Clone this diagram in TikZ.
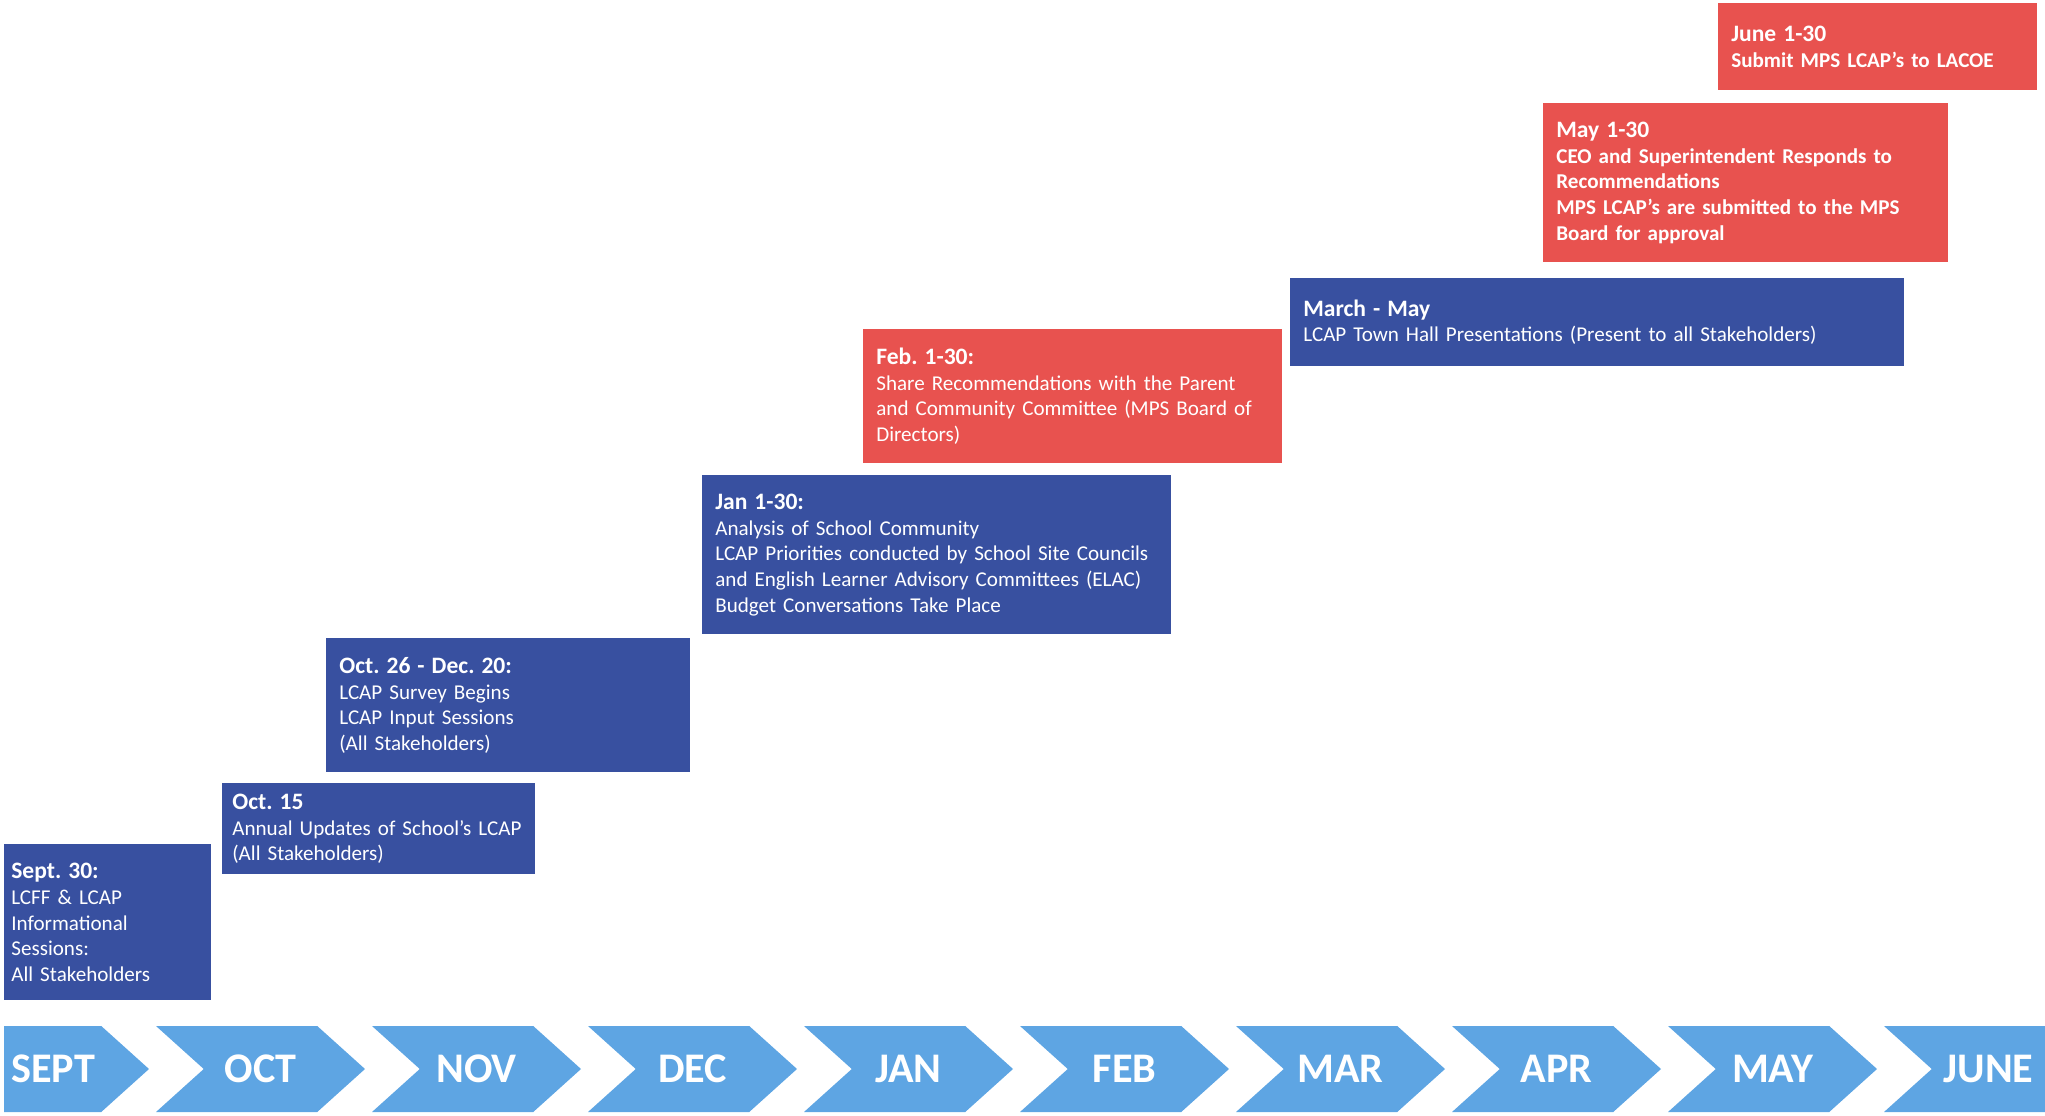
\documentclass[tikz,border=0pt]{standalone}
\usepackage{fontspec}
\setmainfont{Carlito}
\usepackage{xcolor}
\usepackage{tikz}
\usetikzlibrary{shapes.symbols}

\definecolor{boxblue}{HTML}{3850A0}
\definecolor{boxred}{HTML}{E8524F}
\definecolor{monthblue}{HTML}{5EA5E3}

\newcommand{\when}[1]{{\fontsize{13.4}{14.6}\selectfont\bfseries #1}}
\frenchspacing

\begin{document}
\begin{tikzpicture}[
    event/.style={anchor=north west, fill=boxblue, text=white, align=left, inner xsep=0.26cm,
        font=\fontsize{12}{14.6}\selectfont},
    redevent/.style={event, fill=boxred},
    month/.style={signal, signal from=west, signal to=east, signal pointer angle=84,
        fill=monthblue, text=white, inner sep=0pt, minimum width=4.18cm, minimum height=1.72cm,
        font=\fontsize{24}{24}\selectfont\bfseries}
]
    \useasboundingbox (0,0) rectangle (40.9,-22.32);

    % events, one step up per month
    \node[event, inner xsep=0.14cm, text width=3.86cm, minimum height=3.12cm] (sept) at (0.08,-16.88)
        {\when{Sept. 30:}\\LCFF \& LCAP\\Informational\\Sessions:\\All Stakeholders};
    \node[event, inner xsep=0.2cm, text width=5.86cm, minimum height=1.82cm] (oct) at (4.44,-15.66)
        {\when{Oct. 15}\\Annual Updates of School’s LCAP\\(All Stakeholders)};
    \node[event, text width=6.76cm, minimum height=2.68cm] (octdec) at (6.52,-12.76)
        {\when{Oct. 26 - Dec. 20:}\\LCAP Survey Begins\\LCAP Input Sessions\\(All Stakeholders)};
    \node[event, text width=8.86cm, minimum height=3.18cm] (jan) at (14.04,-9.50)
        {\when{Jan 1-30:}\\Analysis of School Community\\LCAP Priorities conducted by School Site Councils\\and English Learner Advisory Committees (ELAC)\\Budget Conversations Take Place};
    \node[redevent, text width=7.86cm, minimum height=2.68cm] (feb) at (17.26,-6.58)
        {\when{Feb. 1-30:}\\Share Recommendations with the Parent\\and Community Committee (MPS Board of\\Directors)};
    \node[event, text width=11.76cm, minimum height=1.76cm] (mar) at (25.80,-5.56)
        {\when{March - May}\\LCAP Town Hall Presentations (Present to all Stakeholders)};
    \node[redevent, text width=7.58cm, minimum height=3.18cm, font=\fontsize{12}{14.6}\selectfont\bfseries] (may) at (30.86,-2.06)
        {\when{May 1-30}\\CEO and Superintendent Responds to\\Recommendations\\MPS LCAP’s are submitted to the MPS\\Board for approval};
    \node[redevent, text width=5.86cm, minimum height=1.74cm, font=\fontsize{12}{14.6}\selectfont\bfseries] (june) at (34.36,-0.06)
        {\when{June 1-30}\\Submit MPS LCAP’s to LACOE};

    % month chevrons
    \begin{scope}
        \clip (0.08,-20) rectangle (40.9,-22.32);
        \node[month] (SEPT) at (0.89,-21.38) {\hspace*{0.34cm}SEPT};
        \foreach \m [count=\i] in {OCT,NOV,DEC,JAN,FEB,MAR,APR,MAY,JUNE}
            \node[month] (\m) at ({0.89+4.32*\i},-21.38) {\m};
    \end{scope}
\end{tikzpicture}
\end{document}
